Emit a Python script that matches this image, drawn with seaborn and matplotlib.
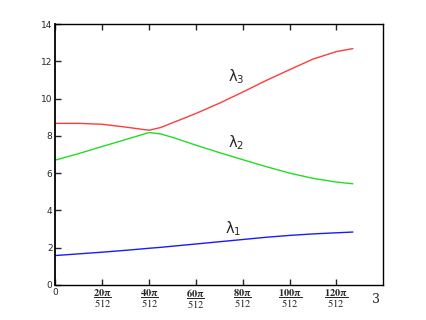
import numpy as np
import pandas as pd
import matplotlib
matplotlib.use("Agg")
import matplotlib.pyplot as plt
import seaborn as sns

# x in units of pi/512
x_vals = [0, 10, 20, 30, 40, 45, 50, 60, 70, 80, 90, 100, 110, 120, 127]
lambda1 = [1.58, 1.67, 1.76, 1.86, 1.97, 2.02, 2.08, 2.20, 2.32, 2.44, 2.56, 2.66, 2.74, 2.80, 2.84]
lambda2 = [6.70, 7.05, 7.43, 7.80, 8.18, 8.10, 7.92, 7.50, 7.10, 6.72, 6.35, 6.00, 5.72, 5.52, 5.43]
lambda3 = [8.67, 8.67, 8.62, 8.47, 8.30, 8.45, 8.70, 9.20, 9.75, 10.35, 10.97, 11.55, 12.12, 12.52, 12.68]

xticks = [0, 20, 40, 60, 80, 100, 120]
yticks = [0, 2, 4, 6, 8, 10, 12, 14]

df = pd.DataFrame({"x": x_vals, "l1": lambda1, "l2": lambda2, "l3": lambda3})

sns.set_style("ticks")
plt.rcParams["font.family"] = ["DejaVu Sans"]

fig = plt.figure(figsize=(4.27, 3.2), dpi=100)
ax = fig.add_axes([0.1297, 0.1094, 0.768, 0.8156])

sns.lineplot(data=df, x="x", y="l1", color="#1a1aff", lw=1, ax=ax)
sns.lineplot(data=df, x="x", y="l2", color="#22dd22", lw=1, ax=ax)
sns.lineplot(data=df, x="x", y="l3", color="#ff3b3b", lw=1, ax=ax)

ax.set_xlim(0, 140)
ax.set_ylim(0, 14)
ax.set_xlabel("")
ax.set_ylabel("")

ax.set_yticks(yticks)
ax.set_yticklabels([str(v) for v in yticks], fontsize=6.5)
ax.set_xticks(xticks)
labels = ["0"] + [r"$\dfrac{\mathbf{%d\pi}}{512}$" % v for v in xticks[1:]]
ax.set_xticklabels(labels)
for i, t in enumerate(ax.get_xticklabels()):
    if i == 0:
        t.set_fontsize(6.5)
    else:
        t.set_fontsize(7.5)
        t.set_math_fontfamily("stix")

ax.tick_params(direction="in", length=4, width=1, top=True, right=False, pad=2)
for s in ax.spines.values():
    s.set_linewidth(1)
    s.set_color("black")
ax.spines["left"].set_linewidth(1.3)

ax.text(77, 11.2, r"$\mathregular{\lambda_3}$", fontsize=10.5, ha="center", va="center")
ax.text(77, 7.65, r"$\mathregular{\lambda_2}$", fontsize=10.5, ha="center", va="center")
ax.text(76, 3.0, r"$\mathregular{\lambda_1}$", fontsize=10.5, ha="center", va="center")
ax.text(0.978, -0.03, "3", transform=ax.transAxes, fontsize=9, family="serif",
        ha="center", va="top")

fig.savefig("out.png", dpi=100)
